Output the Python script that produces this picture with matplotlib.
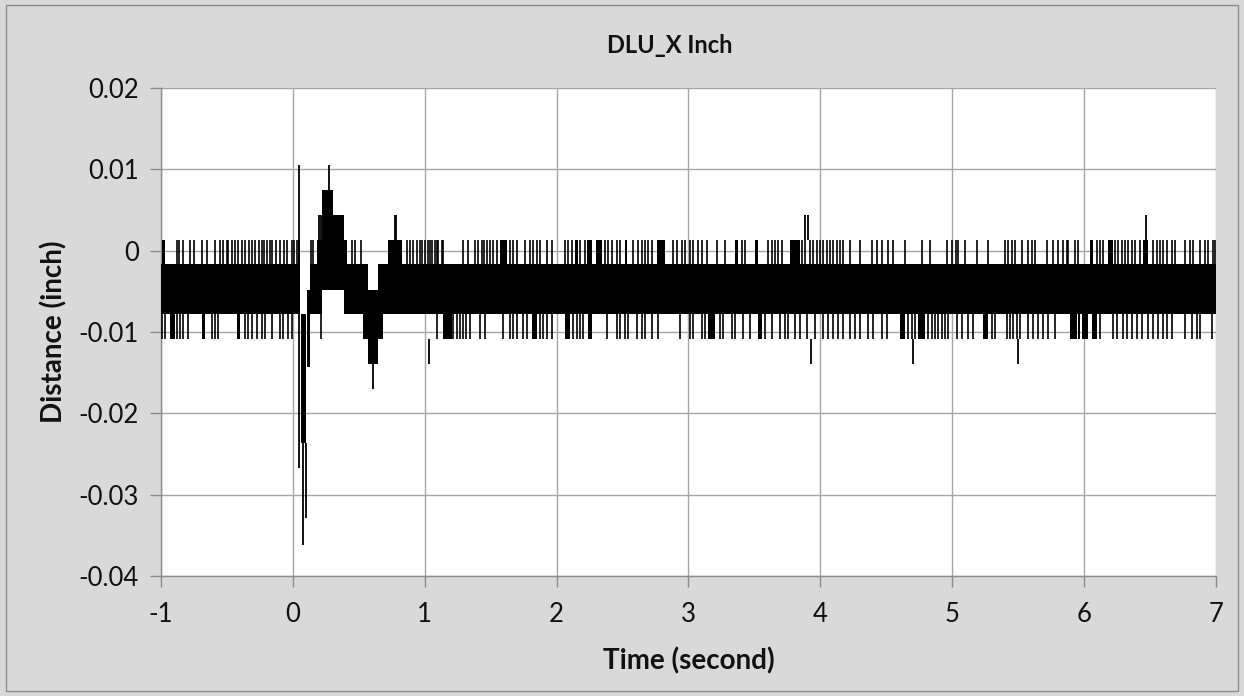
import matplotlib
matplotlib.use("Agg")
from matplotlib import pyplot as plt
from matplotlib.patches import Rectangle

# solid parts of the trace: start, end, low, high
seg_start = [-1.0, 0.062, 0.105, 0.130, 0.180, 0.221, 0.304, 0.390, 0.410, 0.532, 0.570, 0.646, 0.684, 0.720]
seg_end = [0.052, 0.100, 0.130, 0.183, 0.221, 0.304, 0.390, 0.410, 0.532, 0.570, 0.646, 0.684, 7.0, 0.830]
seg_low = [-0.0078, -0.0237, -0.0143, -0.0078, -0.0078, -0.0048, -0.0048, -0.0078, -0.0078, -0.0109, -0.0139,
           -0.0109, -0.0078, -0.0078]
seg_high = [-0.0017, -0.0078, -0.0048, -0.0017, 0.0013, 0.0074, 0.0044, 0.0013, -0.0017, -0.0017, -0.0048,
            -0.0017, -0.0017, 0.0013]

# isolated long excursions: time, low, high
peak_t = [0.049, 0.079, 0.098, 0.272, 0.195, 0.210, 0.610, 0.775, 0.785, 1.030, 3.885, 3.905, 3.930, 4.700,
          5.500, 6.469]
peak_low = [-0.0267, -0.0362, -0.0329, 0.0074, 0.0013, 0.0013, -0.0139, 0.0013, 0.0013, -0.0109, 0.0013, 0.0013,
            -0.0109, -0.0109, -0.0109, 0.0013]
peak_high = [0.0105, -0.0237, -0.0237, 0.0105, 0.0044, 0.0044, -0.0170, 0.0044, 0.0044, -0.0139, 0.0044, 0.0044,
             -0.0139, -0.0139, -0.0139, 0.0044]

band_top = -0.0017
band_bottom = -0.0078
level_up = 0.0013
level_down = -0.0109

# one-step excursions above the band
up_t = [-0.881, -0.863, -0.831, -0.780, -0.747, -0.692, -0.654, -0.590, -0.553, -0.527, -0.502, -0.489, -0.464,
        -0.439, -0.413, -0.383, -0.363, -0.330, -0.307, -0.287, -0.257, -0.231, -0.216, -0.199, -0.173, -0.161,
        -0.130, -0.098, -0.065, -0.047, -0.009, 0.011, 0.029, 0.047, 0.140, 0.155, 0.445, 0.470, 0.520,
        0.863, 0.888, 0.913, 0.939, 0.964, 0.977, 1.002, 1.027, 1.040, 1.052, 1.078, 1.090, 1.103, 1.128, 1.141,
        1.292, 1.331, 1.381, 1.406, 1.432, 1.449, 1.470, 1.495, 1.520, 1.545, 1.647, 1.672, 1.697,
        1.760, 1.798, 1.823, 1.849, 1.874, 1.925, 1.962, 2.064, 2.089, 2.114, 2.177, 2.215, 2.367, 2.392, 2.418,
        2.455, 2.481, 2.582, 2.620, 2.645, 2.670, 2.696, 2.721, 2.885, 2.911, 2.948, 2.974, 3.011, 3.037, 3.075,
        3.100, 3.138, 3.214, 3.277, 3.403, 3.429, 3.605, 3.631, 3.656, 3.681, 3.707, 3.858, 3.884, 3.921, 3.947,
        3.972, 3.997, 4.023, 4.048, 4.073, 4.098, 4.124, 4.149, 4.174, 4.225, 4.301, 4.389, 4.427,
        4.465, 4.515, 4.553, 4.642, 4.768, 4.831, 4.958, 4.996, 5.029, 5.046, 5.097, 5.185, 5.274, 5.400, 5.426,
        5.451, 5.476, 5.527, 5.577, 5.603, 5.628, 5.716, 5.767, 5.805,
        5.842, 5.868, 5.880, 5.931, 5.956, 6.095, 6.121, 6.146, 6.234, 6.260, 6.285, 6.310, 6.335, 6.361, 6.386,
        6.424, 6.525, 6.550, 6.576, 6.601, 6.626, 6.664, 6.689, 6.765, 6.803, 6.828, 6.879, 6.917, 6.942, 6.980,
        6.993]
up_block_start = [-0.995, 1.571, 2.139, 2.228, 2.299, 2.519, 2.759, 3.353, 3.504, 3.770, 6.045, 6.184, 6.449]
up_block_end = [-0.970, 1.621, 2.165, 2.266, 2.342, 2.531, 2.822, 3.378, 3.530, 3.846, 6.070, 6.222, 6.487]

# one-step excursions below the band
down_t = [-0.995, -0.970, -0.881, -0.856, -0.831, -0.793, -0.616, -0.590, -0.565, -0.363, -0.338, -0.312, -0.274,
          -0.236, -0.211, -0.161, -0.098, -0.072, -0.034, -0.009, 0.211,
          1.090, 1.217, 1.242, 1.267, 1.293, 1.313, 1.343, 1.419, 1.457, 1.596, 1.647, 1.672, 1.697,
          1.748, 1.773, 1.874, 1.899, 1.925, 1.962, 2.127, 2.152, 2.177, 2.203, 2.380, 2.455, 2.481, 2.519, 2.544,
          2.607, 2.645, 2.670, 2.721, 2.772, 2.936, 3.011, 3.037,
          3.100, 3.125, 3.239, 3.264, 3.327, 3.353, 3.416, 3.466, 3.580, 3.631, 3.694, 3.732, 3.757, 3.808, 3.846,
          3.896, 3.959, 4.023, 4.060, 4.098, 4.136, 4.174, 4.225, 4.263, 4.301, 4.364, 4.402,
          4.465, 4.503, 4.667, 4.692, 4.718, 4.819, 4.844, 4.869, 4.895, 4.920, 4.945, 4.970, 5.034, 5.072, 5.122,
          5.160, 5.299, 5.324, 5.413, 5.438, 5.463, 5.489, 5.514, 5.577, 5.615, 5.653, 5.691, 5.729, 5.780,
          6.121, 6.222, 6.247, 6.297, 6.323, 6.361, 6.399, 6.436, 6.487, 6.525, 6.563, 6.601, 6.626, 6.664, 6.765,
          6.816, 6.854, 6.879, 6.967]
down_block_start = [-0.932, -0.692, -0.426, 1.141, 1.811, 2.064, 2.241, 3.150, 3.530, 4.604, 4.743, 5.236, 5.893,
                    5.956, 5.981, 6.057]
down_block_end = [-0.894, -0.666, -0.401, 1.204, 1.849, 2.102, 2.266, 3.201, 3.555, 4.642, 4.794, 5.274, 5.944,
                  5.969, 6.032, 6.095]

x_ticks = [-1, 0, 1, 2, 3, 4, 5, 6, 7]
y_ticks = [-0.04, -0.03, -0.02, -0.01, 0, 0.01, 0.02]
y_tick_labels = ["-0.04", "-0.03", "-0.02", "-0.01", "0", "0.01", "0.02"]

plt.rcParams['font.family'] = ['Lato', 'DejaVu Sans']
plt.rcParams['axes.unicode_minus'] = False

fig = plt.figure(figsize=(12.44, 6.96), dpi=100, facecolor='#d9d9d9')
fig.patches.append(Rectangle((0.005, 0.007), 0.99, 0.986, transform=fig.transFigure, fill=False,
                             edgecolor='#8c8c8c', linewidth=1.0))
ax = fig.add_axes([0.1294, 0.1724, 0.8481, 0.7012])
ax.set_facecolor('white')

line_c = 'black'
widths = [e - s for s, e in zip(seg_start, seg_end)]
heights = [h - l for l, h in zip(seg_low, seg_high)]
ax.bar(seg_start, heights, width=widths, bottom=seg_low, align='edge', color=line_c, linewidth=0, zorder=3)
ax.vlines(peak_t, peak_low, peak_high, color=line_c, linewidth=1.3, zorder=3)
ax.vlines(up_t, band_top, level_up, color=line_c, linewidth=1.2, zorder=3)
ax.vlines(down_t, level_down, band_bottom, color=line_c, linewidth=1.2, zorder=3)
ax.bar(up_block_start, level_up - band_top, width=[e - s for s, e in zip(up_block_start, up_block_end)],
       bottom=band_top, align='edge', color=line_c, linewidth=0, zorder=3)
ax.bar(down_block_start, band_bottom - level_down, width=[e - s for s, e in zip(down_block_start, down_block_end)],
       bottom=level_down, align='edge', color=line_c, linewidth=0, zorder=3)

ax.set_xlim(-1, 7)
ax.set_ylim(-0.04, 0.02)
ax.set_xticks(x_ticks)
ax.set_yticks(y_ticks)
ax.set_yticklabels(y_tick_labels)
ax.grid(True, color='#a6a6a6', linewidth=1.0, zorder=0)
ax.set_axisbelow(True)
for side in ['top', 'right']:
    ax.spines[side].set_visible(False)
for side in ['left', 'bottom']:
    ax.spines[side].set_color('#8c8c8c')
    ax.spines[side].set_linewidth(1.0)
ax.tick_params(axis='both', direction='out', length=8, width=1.0, color='#8c8c8c', labelsize=18.5,
               labelcolor='#111111')
ax.tick_params(axis='x', pad=11)
ax.tick_params(axis='y', pad=8)

ax.set_xlabel("Time (second)", fontsize=20, fontweight='bold', color='#111111', labelpad=14)
ax.set_ylabel("Distance (inch)", fontsize=20, fontweight='bold', color='#111111', labelpad=8)
fig.text(0.538, 0.935, "DLU_X Inch", ha='center', va='center', fontsize=17, fontweight='bold', color='#111111')

fig.savefig("out.png", dpi=100, facecolor=fig.get_facecolor())
